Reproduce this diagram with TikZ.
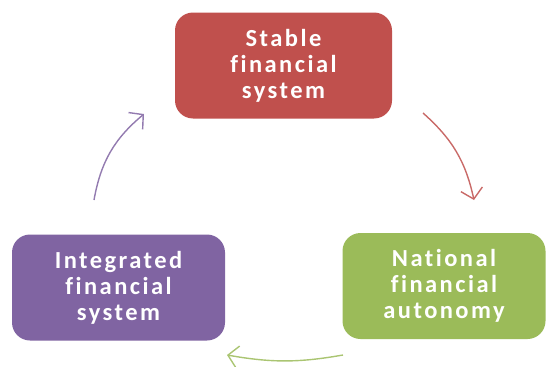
\documentclass[tikz,border=0pt]{standalone}
\usepackage{fontspec}
\newfontfamily\boxfont[LetterSpace=10, Ligatures=NoCommon]{Carlito}
\usetikzlibrary{arrows.meta}
\definecolor{stablered}{HTML}{C0504D}
\definecolor{autogreen}{HTML}{9BBB59}
\definecolor{integpurple}{HTML}{8064A2}

\begin{document}
\begin{tikzpicture}
    [
        x = 1pt, y = -1pt,
        box/.style = {rounded corners = 18pt, minimum height = 106pt, text = white, align = center,
                font = \boxfont\bfseries\fontsize{24.5}{26}\selectfont},
        cycle/.style = {line width = 1.4pt, -{Straight Barb[length = 10pt, width = 22pt]}},
    ]

    \useasboundingbox (0,0) rectangle (547,367);

    \node (stable) [box, fill = stablered, minimum width = 217pt] at (283.5,65.5) {Stable\\financial\\system};
    \node (autonomy) [box, fill = autogreen, minimum width = 203pt] at (444,286) {National\\financial\\autonomy};
    \node (integrated) [box, fill = integpurple, minimum width = 213pt] at (118.5,287.5) {Integrated\\financial\\system};

    \coordinate (redstart) at (423,113);
    \coordinate (redend) at (474,200);
    \coordinate (greenstart) at (343,355);
    \coordinate (greenend) at (227,355);
    \coordinate (purplestart) at (94,200);
    \coordinate (purpleend) at (144,114);

    \foreach \from/\to/\col/\bend in {redstart/redend/stablered/18, greenstart/greenend/autogreen/10, purplestart/purpleend/integpurple/20}{
            \draw [cycle, \col!85!white] (\from) to [bend left = \bend] (\to);
        }

\end{tikzpicture}
\end{document}
